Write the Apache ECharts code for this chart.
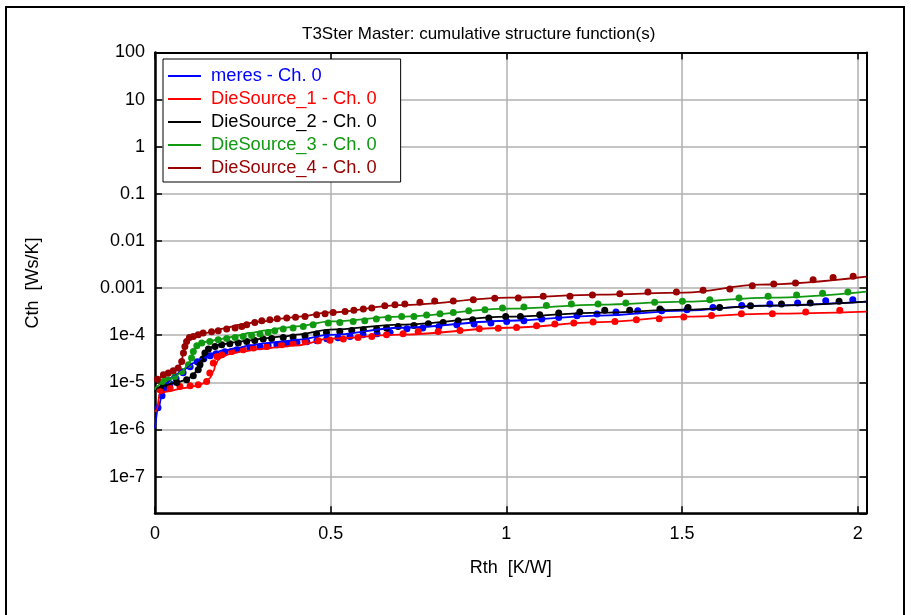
<!DOCTYPE html>
<html><head><meta charset="utf-8">
<script src="https://cdn.jsdelivr.net/npm/echarts@6/dist/echarts.min.js"></script>
<style>html,body{margin:0;padding:0;background:#fff}#c{width:911px;height:615px}</style>
</head><body><div id="c"></div>
<script>
// ---------- DATA (Rth [K/W], Cth [Ws/K]) ----------
const seriesNames = ['meres - Ch. 0', 'DieSource_1 - Ch. 0', 'DieSource_2 - Ch. 0', 'DieSource_3 - Ch. 0', 'DieSource_4 - Ch. 0'];
const yTickLabels = ['1e-7', '1e-6', '1e-5', '1e-4', '0.001', '0.01', '0.1', '1', '10', '100'];
const xTickLabels = ['0', '0.5', '1', '1.5', '2'];

const meresLine = [[0,1.06e-6],[0.009,2.61e-6],[0.019,5.0e-6],[0.033,9.6e-6],[0.052,1.33e-5],[0.081,1.85e-5],[0.109,2.56e-5],[0.137,3.28e-5],[0.166,4.18e-5],[0.194,4.75e-5],[0.232,5.34e-5],[0.270,6.07e-5],[0.318,6.83e-5],[0.365,7.38e-5],[0.403,8.02e-5],[0.498,1.02e-4],[0.697,1.44e-4],[1.007,2.03e-4],[1.266,2.60e-4],[1.508,3.32e-4],[1.721,4.24e-4],[2.025,5.15e-4]];
const meresDots = [[0.0085,2.88e-6],[0.020,5.17e-6],[0.031,7.65e-6],[0.043,9.31e-6],[0.060,1.19e-5],[0.080,1.60e-5],[0.100,2.14e-5],[0.120,2.73e-5],[0.139,3.17e-5],[0.157,3.67e-5],[0.174,4.04e-5],[0.199,4.46e-5],[0.233,4.92e-5],[0.270,5.42e-5],[0.299,5.69e-5],[0.322,5.98e-5],[0.347,6.28e-5],[0.376,6.60e-5],[0.404,6.93e-5],[0.432,7.28e-5],[0.461,7.64e-5],[0.489,8.43e-5],[0.521,8.85e-5],[0.555,9.43e-5],[0.592,1.025e-4],[0.632,1.076e-4],[0.669,1.147e-4],[0.717,1.375e-4],[0.762,1.423e-4],[0.808,1.539e-4],[0.859,1.672e-4],[0.908,1.730e-4],[0.956,1.817e-4],[1.001,1.965e-4],[1.050,2.033e-4],[1.101,2.210e-4],[1.149,2.390e-4],[1.201,2.597e-4],[1.258,2.822e-4],[1.312,3.113e-4],[1.374,3.318e-4],[1.442,3.318e-4],[1.514,3.485e-4],[1.588,3.899e-4],[1.670,4.300e-4],[1.750,4.606e-4],[1.829,4.836e-4],[1.909,5.413e-4],[1.986,5.685e-4]];

const ds1Line = [[0,2.36e-6],[0.005,2.61e-6],[0.014,5.91e-6],[0.033,6.39e-6],[0.081,7.54e-6],[0.119,8.44e-6],[0.142,9.64e-6],[0.156,1.23e-5],[0.166,1.70e-5],[0.173,2.36e-5],[0.180,3.01e-5],[0.190,3.44e-5],[0.213,3.99e-5],[0.251,4.53e-5],[0.299,5.09e-5],[0.346,5.50e-5],[0.403,6.07e-5],[0.498,8.43e-5],[0.697,1.025e-4],[1.007,1.44e-4],[1.266,1.89e-4],[1.508,2.474e-4],[1.750,2.865e-4],[2.025,3.16e-4]];
const ds1Dots = [[0.014,6.94e-6],[0.043,7.47e-6],[0.071,8.16e-6],[0.100,8.44e-6],[0.123,8.87e-6],[0.147,1.04e-5],[0.156,1.57e-5],[0.166,2.56e-5],[0.176,3.54e-5],[0.190,3.85e-5],[0.218,4.53e-5],[0.251,4.92e-5],[0.280,5.34e-5],[0.318,5.78e-5],[0.360,6.28e-5],[0.393,6.83e-5],[0.427,7.38e-5],[0.465,7.64e-5],[0.498,7.83e-5],[0.536,8.30e-5],[0.578,8.98e-5],[0.617,9.43e-5],[0.659,1.025e-4],[0.706,1.076e-4],[0.749,1.205e-4],[0.806,1.205e-4],[0.868,1.265e-4],[0.923,1.375e-4],[0.977,1.409e-4],[1.029,1.465e-4],[1.086,1.592e-4],[1.138,1.730e-4],[1.192,1.817e-4],[1.247,1.908e-4],[1.309,1.965e-4],[1.370,2.135e-4],[1.435,2.243e-4],[1.505,2.437e-4],[1.584,2.636e-4],[1.669,2.865e-4],[1.757,2.865e-4],[1.852,3.113e-4],[1.949,3.368e-4]];

const ds2Line = [[0,6.29e-6],[0.005,7.54e-6],[0.023,8.44e-6],[0.061,9.92e-6],[0.090,1.13e-5],[0.109,1.45e-5],[0.123,2.01e-5],[0.133,3.01e-5],[0.142,4.18e-5],[0.152,5.09e-5],[0.166,5.78e-5],[0.185,6.28e-5],[0.223,7.03e-5],[0.270,7.75e-5],[0.318,8.72e-5],[0.365,9.43e-5],[0.403,1.025e-4],[0.498,1.309e-4],[0.697,1.672e-4],[1.007,2.474e-4],[1.266,3.009e-4],[1.508,3.485e-4],[1.750,4.24e-4],[2.025,5.15e-4]];
const ds2Dots = [[0.024,8.44e-6],[0.062,9.92e-6],[0.090,1.13e-5],[0.109,1.38e-5],[0.123,1.85e-5],[0.128,2.36e-5],[0.136,3.12e-5],[0.142,4.18e-5],[0.152,5.09e-5],[0.171,5.78e-5],[0.190,6.28e-5],[0.213,6.60e-5],[0.237,6.83e-5],[0.261,7.38e-5],[0.284,7.75e-5],[0.308,8.30e-5],[0.332,8.55e-5],[0.365,8.98e-5],[0.393,9.20e-5],[0.427,9.76e-5],[0.460,1.060e-4],[0.488,1.147e-4],[0.526,1.205e-4],[0.560,1.265e-4],[0.593,1.309e-4],[0.631,1.354e-4],[0.659,1.423e-4],[0.692,1.539e-4],[0.737,1.616e-4],[0.778,1.756e-4],[0.820,1.871e-4],[0.863,2.033e-4],[0.904,2.135e-4],[0.950,2.321e-4],[0.998,2.510e-4],[1.040,2.510e-4],[1.095,2.728e-4],[1.149,2.964e-4],[1.209,3.113e-4],[1.280,3.368e-4],[1.351,3.368e-4],[1.437,3.606e-4],[1.517,3.899e-4],[1.607,3.899e-4],[1.695,4.238e-4],[1.783,4.606e-4],[1.865,4.836e-4],[1.947,5.231e-4]];

const ds3Line = [[0,6.94e-6],[0.005,8.16e-6],[0.023,1.04e-5],[0.037,1.13e-5],[0.057,1.33e-5],[0.076,1.70e-5],[0.095,2.36e-5],[0.104,3.28e-5],[0.109,4.53e-5],[0.116,5.78e-5],[0.126,6.83e-5],[0.137,7.17e-5],[0.156,7.38e-5],[0.175,8.02e-5],[0.204,8.72e-5],[0.232,9.76e-5],[0.270,1.114e-4],[0.318,1.265e-4],[0.365,1.423e-4],[0.403,1.539e-4],[0.498,1.965e-4],[0.697,2.474e-4],[1.007,3.66e-4],[1.266,4.451e-4],[1.508,5.154e-4],[1.750,6.27e-4],[2.025,8.41e-4]];
const ds3Dots = [[0.023,1.04e-5],[0.037,1.13e-5],[0.057,1.33e-5],[0.076,1.70e-5],[0.095,2.36e-5],[0.104,3.28e-5],[0.109,4.53e-5],[0.119,5.98e-5],[0.133,6.83e-5],[0.156,7.38e-5],[0.180,8.02e-5],[0.204,8.55e-5],[0.228,8.98e-5],[0.251,9.43e-5],[0.275,9.90e-5],[0.299,1.060e-4],[0.322,1.147e-4],[0.341,1.246e-4],[0.365,1.354e-4],[0.393,1.423e-4],[0.422,1.539e-4],[0.450,1.672e-4],[0.493,1.817e-4],[0.526,1.871e-4],[0.564,1.965e-4],[0.597,2.033e-4],[0.630,2.210e-4],[0.664,2.321e-4],[0.702,2.510e-4],[0.737,2.510e-4],[0.773,2.688e-4],[0.811,2.865e-4],[0.849,3.053e-4],[0.893,3.318e-4],[0.939,3.485e-4],[0.989,3.786e-4],[1.050,3.977e-4],[1.114,4.300e-4],[1.185,4.606e-4],[1.261,4.606e-4],[1.340,4.836e-4],[1.422,4.981e-4],[1.501,5.231e-4],[1.579,5.685e-4],[1.662,6.177e-4],[1.745,6.68e-4],[1.826,7.155e-4],[1.900,7.74e-4],[1.972,8.29e-4]];

const ds4Line = [[0,1.08e-5],[0.007,1.17e-5],[0.024,1.41e-5],[0.038,1.56e-5],[0.052,1.72e-5],[0.066,2.04e-5],[0.076,2.77e-5],[0.080,4.04e-5],[0.085,5.56e-5],[0.091,7.28e-5],[0.100,8.64e-5],[0.114,9.52e-5],[0.137,1.076e-4],[0.166,1.216e-4],[0.194,1.375e-4],[0.242,1.672e-4],[0.299,1.936e-4],[0.375,2.298e-4],[0.403,2.474e-4],[0.498,3.053e-4],[0.697,4.342e-4],[1.007,6.27e-4],[1.266,7.26e-4],[1.508,8.01e-4],[1.721,1.185e-3],[2.025,1.752e-3]];
const ds4Dots = [[0.007,1.17e-5],[0.024,1.45e-5],[0.038,1.57e-5],[0.052,1.76e-5],[0.066,2.01e-5],[0.076,2.77e-5],[0.081,4.18e-5],[0.085,5.78e-5],[0.090,7.38e-5],[0.098,8.98e-5],[0.109,9.43e-5],[0.123,1.025e-4],[0.137,1.114e-4],[0.161,1.187e-4],[0.180,1.246e-4],[0.204,1.354e-4],[0.228,1.423e-4],[0.247,1.539e-4],[0.261,1.672e-4],[0.284,1.871e-4],[0.304,2.033e-4],[0.327,2.135e-4],[0.348,2.243e-4],[0.375,2.321e-4],[0.400,2.413e-4],[0.427,2.510e-4],[0.460,2.728e-4],[0.484,2.865e-4],[0.507,3.053e-4],[0.541,3.206e-4],[0.566,3.368e-4],[0.593,3.606e-4],[0.617,3.786e-4],[0.654,4.238e-4],[0.683,4.451e-4],[0.711,4.606e-4],[0.754,4.981e-4],[0.796,5.335e-4],[0.849,5.335e-4],[0.906,5.685e-4],[0.967,6.058e-4],[1.034,6.177e-4],[1.105,6.68e-4],[1.181,6.68e-4],[1.245,7.155e-4],[1.323,7.625e-4],[1.403,8.29e-4],[1.484,8.29e-4],[1.560,8.97e-4],[1.636,9.60e-4],[1.700,1.128e-3],[1.761,1.226e-3],[1.823,1.287e-3],[1.873,1.513e-3],[1.930,1.669e-3],[1.987,1.778e-3]];

// ---------- STYLE ----------
const colors = ['#0000ff', '#ff0000', '#000000', '#119911', '#990000'];
const lines = [meresLine, ds1Line, ds2Line, ds3Line, ds4Line];
const dots = [meresDots, ds1Dots, ds2Dots, ds3Dots, ds4Dots];
const FONT = "'Liberation Sans', Arial, sans-serif";

const chart = echarts.init(document.getElementById('c'), null, { renderer: 'canvas' });

function yLabel(v) {
  const e = Math.round(Math.log10(v));
  const idx = e + 7;
  return (idx >= 0 && idx < yTickLabels.length) ? yTickLabels[idx] : '';
}
function xLabel(v) {
  const idx = Math.round(v / 0.5);
  return (Math.abs(v - idx * 0.5) < 1e-6 && idx < xTickLabels.length) ? xTickLabels[idx] : '';
}

const series = [];
dots.forEach((d, i) => {
  series.push({
    name: seriesNames[i] + ' pts', type: 'scatter', data: d,
    symbol: 'circle', symbolSize: 7,
    itemStyle: { color: colors[i], opacity: 1 }, silent: true, z: 2
  });
});
lines.forEach((d, i) => {
  series.push({
    name: seriesNames[i], type: 'line', data: d,
    symbol: 'none', smooth: 0.35, smoothMonotone: 'x',
    lineStyle: { color: colors[i], width: 1.8 }, itemStyle: { color: colors[i] },
    z: 3
  });
});

const gridLeft = 155, gridTop = 52.5, gridRight = 44.5, gridBottom = 101.7;
const axisLineStyle = { color: '#000', width: 2 };

chart.setOption({
  animation: false,
  backgroundColor: '#fff',
  textStyle: { fontFamily: FONT },
  title: {
    text: 'T3Ster Master: cumulative structure function(s)',
    left: 297, top: 21,
    textStyle: { fontSize: 17, fontWeight: 'normal', color: '#000', fontFamily: FONT }
  },
  grid: { left: gridLeft, top: gridTop, right: gridRight, bottom: gridBottom, containLabel: false },
  legend: {
    orient: 'vertical', left: 163, top: 59,
    backgroundColor: '#fff', borderColor: '#000', borderWidth: 1,
    padding: [8, 24, 5, 5],
    icon: 'rect', itemWidth: 33, itemHeight: 2, itemGap: 5,
    textStyle: { fontSize: 18.3, lineHeight: 18, fontFamily: FONT, padding: [0, 0, 0, 5] },
    data: seriesNames.map((n, i) => ({ name: n, textStyle: { color: colors[i] } }))
  },
  xAxis: [{
    type: 'value', min: 0, max: 2.025, interval: 0.5, position: 'bottom',
    name: 'Rth  [K/W]', nameLocation: 'middle', nameGap: 46,
    nameTextStyle: { fontSize: 18, color: '#000', fontFamily: FONT },
    axisLine: { show: true, onZero: false, lineStyle: { color: '#000', width: 2.5 } },
    axisTick: { show: true, inside: true, length: 7, lineStyle: { color: '#000', width: 1.5 } },
    axisLabel: { fontSize: 18, color: '#000', margin: 12, formatter: xLabel, showMaxLabel: false },
    splitLine: { show: true, lineStyle: { color: '#b0b0b0', width: 1.5 } }
  }, {
    type: 'value', min: 0, max: 2.025, interval: 0.5, position: 'top',
    axisLine: { show: true, onZero: false, lineStyle: axisLineStyle },
    axisTick: { show: true, inside: true, length: 7, lineStyle: { color: '#000', width: 1.5 } },
    axisLabel: { show: false }, splitLine: { show: false }
  }],
  yAxis: [{
    type: 'log', logBase: 10, min: 1.663e-8, max: 100, splitNumber: 10, position: 'left',
    name: 'Cth  [Ws/K]', nameLocation: 'middle', nameGap: 113, nameRotate: 90,
    nameTextStyle: { fontSize: 18, color: '#000', fontFamily: FONT },
    axisLine: { show: true, onZero: false, lineStyle: { color: '#000', width: 2.5 } },
    axisTick: { show: true, inside: true, length: 7, lineStyle: { color: '#000', width: 1.5 } },
    axisLabel: { fontSize: 18, color: '#000', margin: 10, formatter: yLabel, showMinLabel: false },
    splitLine: { show: true, lineStyle: { color: '#b0b0b0', width: 1.5 } },
    minorTick: { show: false }
  }, {
    type: 'log', logBase: 10, min: 1.663e-8, max: 100, splitNumber: 10, position: 'right',
    axisLine: { show: true, onZero: false, lineStyle: axisLineStyle },
    axisTick: { show: true, inside: true, length: 7, lineStyle: { color: '#000', width: 1.5 } },
    axisLabel: { show: false }, splitLine: { show: false }
  }],
  graphic: [{
    type: 'rect', z: -10, silent: true,
    shape: { x: 6, y: 7, width: 898, height: 640 },
    style: { fill: 'none', stroke: '#000', lineWidth: 2 }
  }],
  series: series
});
</script>
</body></html>
